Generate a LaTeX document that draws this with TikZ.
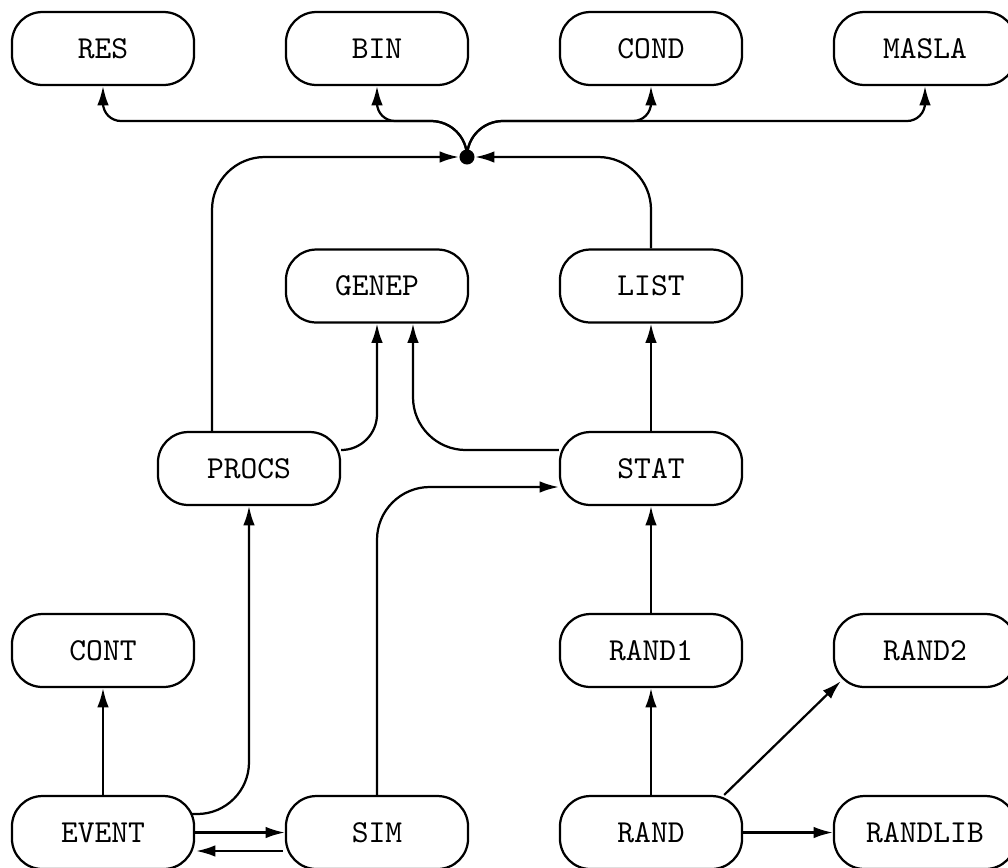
\documentclass[tikz,border=0pt]{standalone}
\usetikzlibrary{arrows.meta}
\begin{document}
\begin{tikzpicture}[x=0.3125pt,y=0.3125pt,
  box/.style={draw,rectangle,rounded corners=9.5pt,minimum width=56.9pt,minimum height=22.8pt,line width=0.7pt,font=\ttfamily,inner sep=0pt},
  conn/.style={line width=0.7pt,-{Latex[length=6pt,width=3.6pt]}},
  junction/.style={circle,fill,inner sep=0pt,minimum size=4.7pt}]
\useasboundingbox (0,0) rectangle (1008,867);
\clip (0,0) rectangle (1008,867);
% nodes
\node[box] (RES) at (103,818.5) {RES};
\node[box] (BIN) at (377,818.5) {BIN};
\node[box] (COND) at (651,818.5) {COND};
\node[box] (MASLA) at (925,818.5) {MASLA};
\node[box] (GENEP) at (377,581) {GENEP};
\node[box] (LIST) at (651,581) {LIST};
\node[box] (PROCS) at (249,398.5) {PROCS};
\node[box] (STAT) at (651,398.5) {STAT};
\node[box] (CONT) at (103,216.5) {CONT};
\node[box] (RAND1) at (651,216.5) {RAND1};
\node[box] (RAND2) at (925,216.5) {RAND2};
\node[box] (EVENT) at (103,34.5) {EVENT};
\node[box] (SIM) at (377,34.5) {SIM};
\node[box] (RAND) at (651,34.5) {RAND};
\node[box] (RANDLIB) at (925,34.5) {RANDLIB};
\node[junction] (dot) at (467,710) {};
% fan-out from junction
\draw[conn] (dot.center) to[out=90,in=0] (431,746) -- (121,746) to[out=180,in=270] (103,764) -- (RES.south);
\draw[conn] (dot.center) to[out=90,in=0] (431,746) -- (395,746) to[out=180,in=270] (377,764) -- (BIN.south);
\draw[conn] (dot.center) to[out=90,in=180] (503,746) -- (633,746) to[out=0,in=270] (651,764) -- (COND.south);
\draw[conn] (dot.center) to[out=90,in=180] (503,746) -- (907,746) to[out=0,in=270] (925,764) -- (MASLA.south);
% into junction
\draw[conn,rounded corners=16.5pt] ([xshift=-11.56pt]PROCS.north) |- (dot.west);
\draw[conn,rounded corners=16.5pt] (LIST.north) |- (dot.east);
% middle
\draw[conn,rounded corners=11.2pt] ([yshift=5.78pt]PROCS.east) -| (GENEP.south);
\draw[conn,rounded corners=16.5pt] ([yshift=5.78pt]STAT.west) -| ([xshift=11.25pt]GENEP.south);
\draw[conn] (STAT.north) -- (LIST.south);
\draw[conn,rounded corners=16.5pt] (SIM.north) |- ([yshift=-5.78pt]STAT.west);
\draw[conn] (RAND1.north) -- (STAT.south);
\draw[conn,rounded corners=16.2pt] ([xshift=-0.94pt,yshift=5.78pt]EVENT.east) -| (PROCS.south);
% bottom
\draw[conn] (EVENT.north) -- (CONT.south);
\draw[conn] (EVENT.east) -- (SIM.west);
\draw[conn] ([xshift=-0.6pt,yshift=-5.78pt]SIM.west) -- ([xshift=0.3pt,yshift=-5.78pt]EVENT.east);
\draw[conn] (RAND.north) -- (RAND1.south);
\draw[conn] ([xshift=-5.94pt]RAND.north east) -- ([xshift=2.5pt,yshift=2.19pt]RAND2.south west);
\draw[conn] (RAND.east) -- (RANDLIB.west);
\end{tikzpicture}
\end{document}
